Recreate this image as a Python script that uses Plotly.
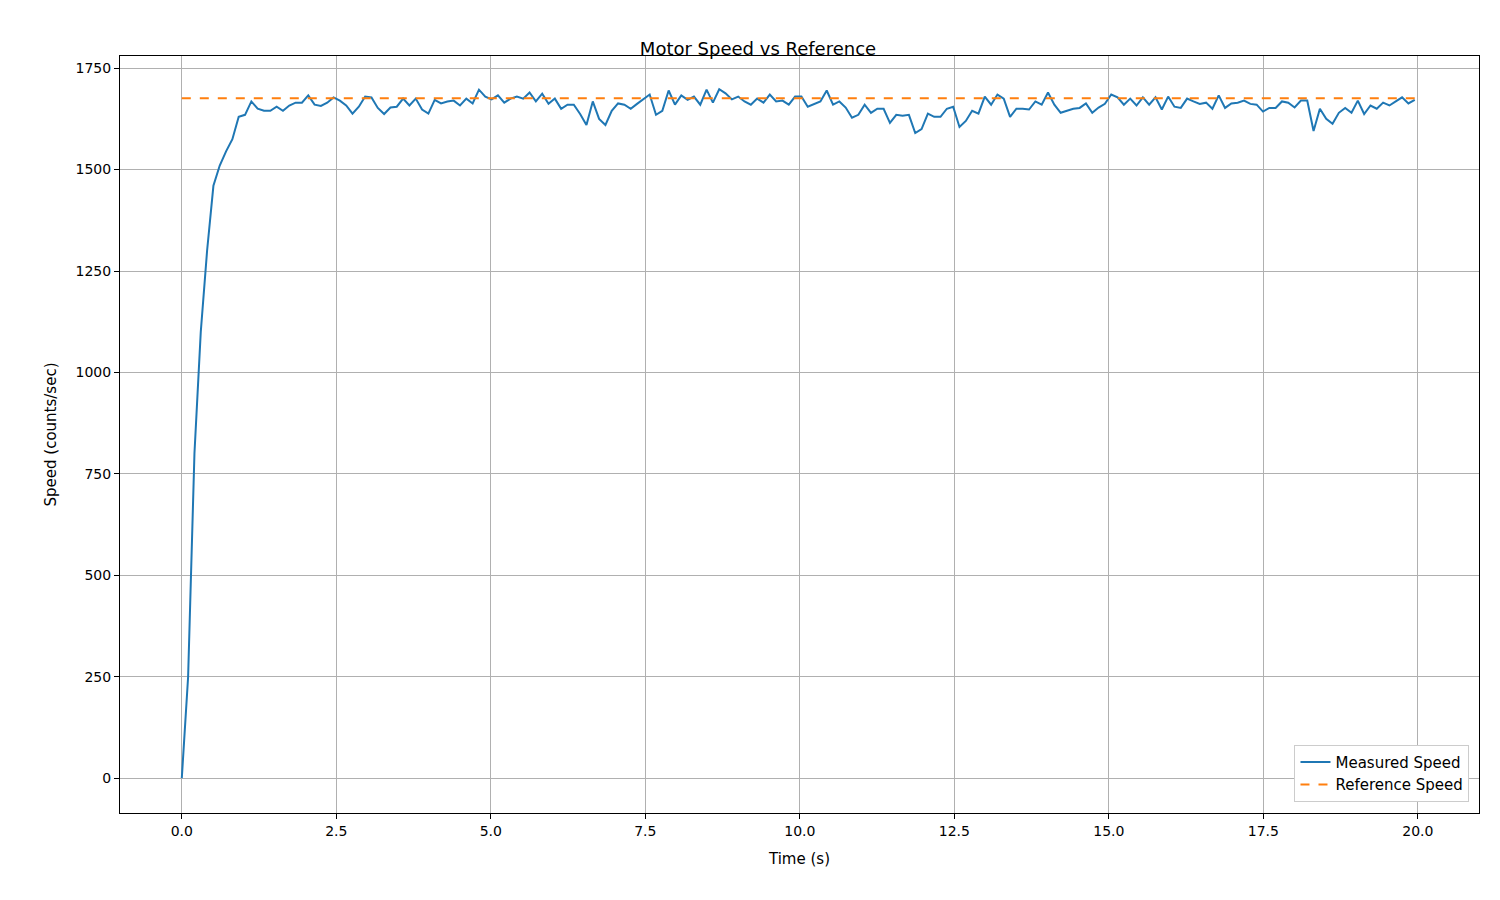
import numpy as np
import plotly.graph_objects as go

reference_speed = 1676
speed = [
    0, 250, 800, 1100, 1300, 1460, 1510, 1545, 1575, 1630,
    1635, 1668, 1650, 1645, 1645, 1655, 1645, 1658, 1665, 1665,
    1683, 1660, 1657, 1665, 1678, 1670, 1658, 1638, 1655, 1680,
    1678, 1652, 1637, 1653, 1655, 1675, 1658, 1675, 1648, 1638,
    1672, 1663, 1668, 1670, 1658, 1675, 1663, 1697, 1680, 1673,
    1683, 1665, 1675, 1680, 1675, 1690, 1668, 1687, 1662, 1675,
    1650, 1660, 1660, 1637, 1610, 1668, 1625, 1610, 1645, 1663,
    1660, 1650, 1662, 1673, 1685, 1635, 1645, 1695, 1660, 1683,
    1672, 1680, 1660, 1697, 1665, 1698, 1688, 1673, 1680, 1668,
    1660, 1675, 1665, 1685, 1668, 1670, 1660, 1680, 1680, 1655,
    1662, 1668, 1695, 1660, 1668, 1653, 1628, 1635, 1660, 1640,
    1650, 1650, 1615, 1635, 1633, 1635, 1590, 1600, 1638, 1630,
    1630, 1650, 1655, 1605, 1620, 1645, 1638, 1680, 1660, 1685,
    1675, 1630, 1650, 1650, 1648, 1668, 1660, 1690, 1660, 1640,
    1645, 1650, 1652, 1663, 1640, 1653, 1662, 1685, 1678, 1660,
    1675, 1658, 1678, 1660, 1678, 1648, 1680, 1655, 1652, 1675,
    1668, 1662, 1665, 1650, 1683, 1652, 1663, 1665, 1670, 1662,
    1660, 1643, 1652, 1652, 1668, 1665, 1653, 1670, 1670, 1595,
    1650, 1625, 1613, 1640, 1652, 1640, 1670, 1637, 1658, 1650,
    1665, 1658, 1668, 1678, 1663, 1672,
]
time = np.linspace(0, 19.95, len(speed))

fig = go.Figure()
fig.add_trace(go.Scatter(x=time, y=speed, mode="lines", name="Measured Speed",
                         line=dict(color="#1f77b4", width=2)))
fig.add_trace(go.Scatter(x=time, y=[reference_speed] * len(time), mode="lines",
                         name="Reference Speed",
                         line=dict(color="#ff7f0e", width=2, dash="dash")))

axis = dict(showline=True, linecolor="black", mirror=True, showgrid=True,
            gridcolor="#b0b0b0", gridwidth=1, zeroline=False, ticks="outside",
            ticklen=5, tickcolor="black", tickfont=dict(size=14, color="black"))
fig.update_layout(
    width=1500, height=900,
    paper_bgcolor="white", plot_bgcolor="white",
    font=dict(family="DejaVu Sans", color="black"),
    title=dict(text="Motor Speed vs Reference", x=0.5, xanchor="center",
               y=0.962, font=dict(size=18)),
    margin=dict(l=112, r=29, t=48, b=95),
    xaxis=dict(axis, range=[-1.0, 20.99], tickvals=[0, 2.5, 5, 7.5, 10, 12.5, 15, 17.5, 20],
               ticktext=["0.0", "2.5", "5.0", "7.5", "10.0", "12.5", "15.0", "17.5", "20.0"],
               title=dict(text="Time (s)", font=dict(size=15))),
    yaxis=dict(axis, range=[-86, 1780], tickvals=list(range(0, 1751, 250)),
               title=dict(text="Speed (counts/sec)", font=dict(size=15))),
    legend=dict(x=0.993, y=0.015, xanchor="right", yanchor="bottom",
                bordercolor="#cccccc", borderwidth=1, bgcolor="white",
                font=dict(size=15)),
)
fig.write_html("out.html")
